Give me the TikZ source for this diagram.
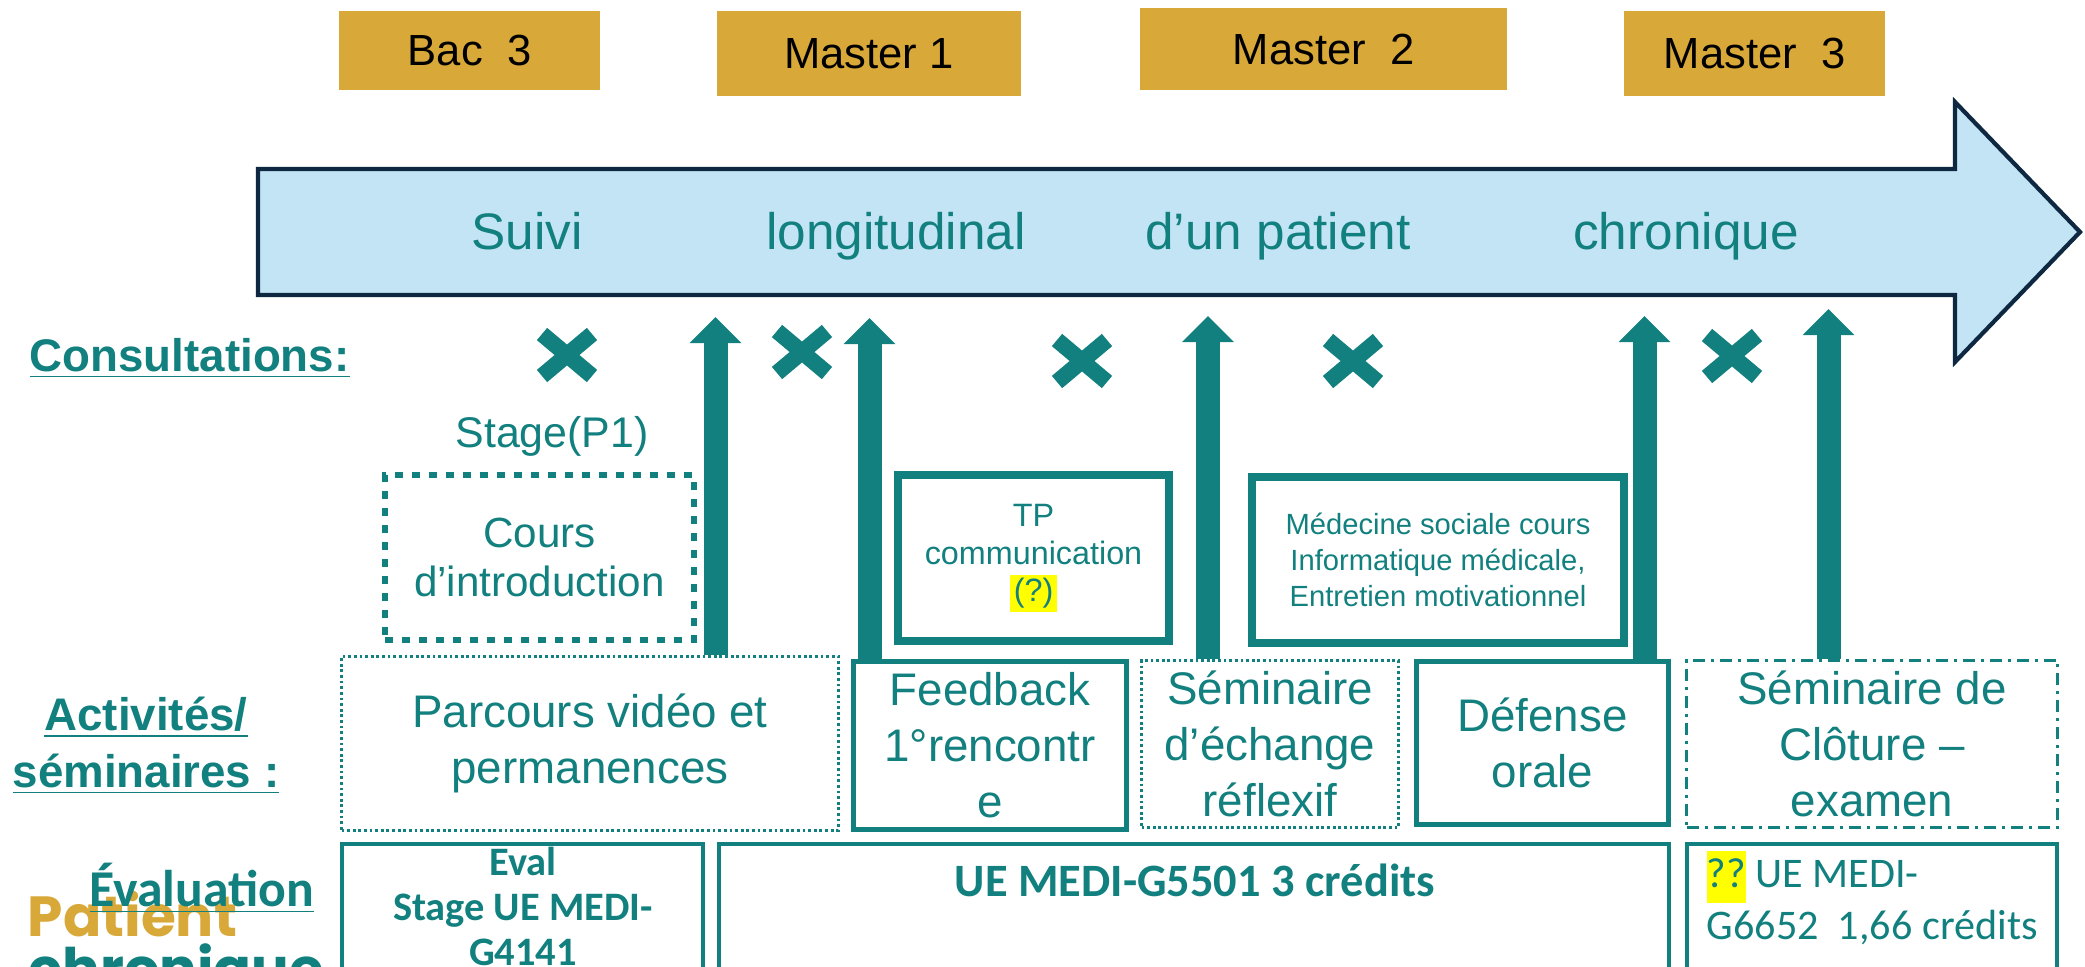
\documentclass[tikz,border=0pt]{standalone}
\usepackage{fontspec}
\setmainfont{Liberation Sans}
\newfontfamily\carlito{Carlito}
\newfontfamily\poppins{Poppins}
\usetikzlibrary{arrows.meta}

\definecolor{ulbteal}{RGB}{17,128,126}
\definecolor{ulbgold}{RGB}{216,168,56}
\definecolor{skyfill}{RGB}{194,228,244}
\definecolor{navyline}{RGB}{14,40,65}
\definecolor{hlyellow}{RGB}{255,255,0}
\setlength{\fboxsep}{1pt}

\tikzset{
  yearbox/.style={fill=ulbgold, text=black, inner sep=0pt, font=\fontsize{12.4}{15}\selectfont},
  lanetext/.style={text=ulbteal, anchor=base, font=\fontsize{14.6}{17}\selectfont},
  rowlabel/.style={text=ulbteal, anchor=base west, inner sep=0pt, font=\bfseries\fontsize{13}{16}\selectfont},
  coursebox/.style={draw=ulbteal, text=ulbteal, align=center, inner sep=0pt},
  actbox/.style={draw=ulbteal, text=ulbteal, align=center, inner sep=0pt, line width=1.4pt,
    minimum height=1.67cm, font=\fontsize{13}{15.9}\selectfont},
  fine dots/.style={line width=0.85pt, dash pattern=on 0.8pt off 0.8pt},
  dash dots/.style={line width=0.85pt, dash pattern=on 0.12cm off 0.06cm on 0.03cm off 0.06cm},
  evalbox/.style={draw=ulbteal, line width=1.2pt, anchor=north, minimum height=2cm, inner sep=0pt},
  uparrow/.style={draw=ulbteal, line width=0.24cm, -{Triangle[width=0.5cm,length=0.26cm]}},
  crossline/.style={draw=ulbteal, line width=0.16cm},
}

\begin{document}
\begin{tikzpicture}
  \clip (0,0) rectangle (20.85,-9.66);

  % Years
  \node[yearbox, minimum width=2.61cm, minimum height=0.79cm] (bac3) at (4.695,-0.505) {Bac\ \ 3};
  \node[yearbox, minimum width=3.04cm, minimum height=0.85cm] (ma1) at (8.69,-0.535) {Master 1};
  \node[yearbox, minimum width=3.67cm, minimum height=0.82cm] (ma2) at (13.235,-0.49) {Master\ \ 2};
  \node[yearbox, minimum width=2.61cm, minimum height=0.85cm] (ma3) at (17.545,-0.535) {Master\ \ 3};

  % Timeline arrow
  \draw[navyline, fill=skyfill, line width=1.2pt] (2.58,-1.69) -- (19.55,-1.69) -- (19.55,-1.02)
    -- (20.80,-2.32) -- (19.55,-3.62) -- (19.55,-2.95) -- (2.58,-2.95) -- cycle;
  \node[lanetext] (suivi) at (5.27,-2.49) {Suivi};
  \node[lanetext] (longi) at (8.96,-2.49) {longitudinal};
  \node[lanetext] (patient) at (12.78,-2.49) {d’un patient};
  \node[lanetext] (chron) at (16.86,-2.49) {chronique};

  % Row labels
  \node[rowlabel] (consult) at (0.29,-3.71) {\underline{Consultations:}};
  \node[rowlabel, anchor=base] (activ) at (1.46,-7.30) {\underline{Activités/}};
  \node[rowlabel, anchor=base] (semin) at (1.46,-7.87) {\underline{séminaires :}};
  \node[text=ulbgold, anchor=base west, inner sep=0pt, font=\poppins\bfseries\fontsize{16.1}{19}\selectfont] (logo1) at (0.27,-9.36) {Patient};
  \node[text=ulbteal, anchor=base west, inner sep=0pt, font=\poppins\bfseries\fontsize{15.9}{19}\selectfont] (logo2) at (0.28,-9.88) {chronique};
  \node[rowlabel, font=\carlito\bfseries\fontsize{14.7}{17}\selectfont] (evalrow) at (0.89,-9.06) {\underline{Évaluation}};

  % Consultations
  \draw[crossline] (5.42,-3.34) -- (5.92,-3.76) (5.42,-3.76) -- (5.92,-3.34);
  \draw[crossline] (7.77,-3.31) -- (8.27,-3.73) (7.77,-3.73) -- (8.27,-3.31);
  \draw[crossline] (10.57,-3.40) -- (11.07,-3.82) (10.57,-3.82) -- (11.07,-3.40);
  \draw[crossline] (13.28,-3.40) -- (13.78,-3.82) (13.28,-3.82) -- (13.78,-3.40);
  \draw[crossline] (17.07,-3.35) -- (17.57,-3.77) (17.07,-3.77) -- (17.57,-3.35);

  % Courses
  \node[text=ulbteal, anchor=base, font=\fontsize{12.2}{14}\selectfont] (stage) at (5.52,-4.47) {Stage(P1)};
  \node[coursebox, line width=0.06cm, dash pattern=on 0.08cm off 0.09cm, minimum width=3.09cm,
    minimum height=1.65cm, font=\fontsize{12}{14.2}\selectfont] (intro) at (5.395,-5.575)
    {Cours\\d’introduction};
  \node[coursebox, line width=0.08cm, minimum width=2.71cm, minimum height=1.66cm,
    font=\fontsize{9.2}{10.8}\selectfont] (tp) at (10.335,-5.58)
    {TP\\communication\\\colorbox{hlyellow}{(?)}};
  \node[coursebox, line width=0.08cm, minimum width=3.72cm, minimum height=1.66cm,
    font=\fontsize{8.3}{10.2}\selectfont] (medsoc) at (14.38,-5.60)
    {Médecine sociale cours\\Informatique médicale,\\Entretien motivationnel};

  % Activities / seminars
  \node[actbox, fine dots, minimum width=4.97cm, minimum height=1.74cm] (parcours) at (5.90,-7.435)
    {Parcours vidéo et\\permanences};
  \node[actbox, minimum width=2.73cm, minimum height=1.68cm] (feedback) at (9.90,-7.455)
    {Feedback\\1°rencontr\\e};
  \node[actbox, fine dots, minimum width=2.57cm] (echange) at (12.70,-7.44)
    {Séminaire\\d’échange\\réflexif};
  \node[actbox, minimum width=2.52cm, minimum height=1.63cm] (defense) at (15.425,-7.43)
    {Défense\\orale};
  \node[actbox, dash dots, minimum width=3.71cm] (cloture) at (18.72,-7.435)
    {Séminaire de\\Clôture –\\examen};

  % Arrows up to the timeline
  \coordinate (t1) at (7.155,-3.17);
  \coordinate (t2) at (8.695,-3.18);
  \coordinate (t3) at (12.08,-3.16);
  \coordinate (t4) at (16.445,-3.16);
  \coordinate (t5) at (18.285,-3.09);
  \draw[uparrow] (parcours.north -| t1) -- (t1);
  \draw[uparrow] (feedback.north -| t2) -- (t2);
  \draw[uparrow] (echange.north -| t3) -- (t3);
  \draw[uparrow] (defense.north -| t4) -- (t4);
  \draw[uparrow] (cloture.north -| t5) -- (t5);

  % Evaluation
  \node[evalbox, minimum width=3.61cm] (eval) at (5.225,-8.42) {};
  \node[evalbox, minimum width=9.50cm] (ue5501) at (11.94,-8.42) {};
  \node[evalbox, minimum width=3.70cm] (ue6652) at (18.72,-8.42) {};
  \node[text=ulbteal, anchor=north, align=center, inner sep=0pt,
    font=\carlito\bfseries\fontsize{11.5}{12.8}\selectfont] (evaltxt) at (5.23,-8.46)
    {Eval\\Stage UE MEDI-\\G4141};
  \node[text=ulbteal, anchor=base, inner sep=0pt,
    font=\carlito\bfseries\fontsize{13.2}{15}\selectfont] (uetxt) at (11.95,-8.96)
    {UE MEDI-G5501 3 crédits};
  \node[text=ulbteal, anchor=north west, align=left, inner sep=0pt,
    font=\carlito\fontsize{12}{14.8}\selectfont] (creditxt) at (17.06,-8.50)
    {{\fboxsep=0pt\colorbox{hlyellow}{\strut ??}} UE MEDI-\\G6652\ \ 1,66 crédits};
\end{tikzpicture}
\end{document}
